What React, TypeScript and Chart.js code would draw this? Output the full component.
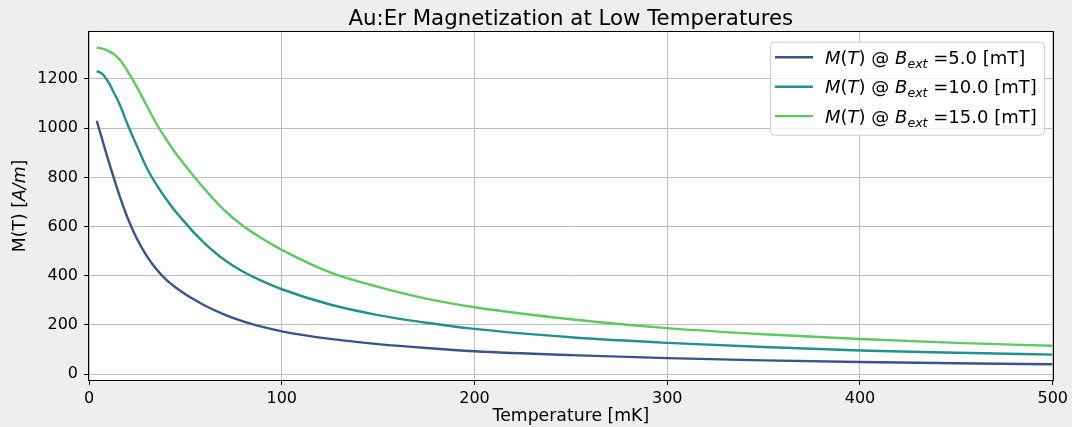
import React, { useEffect, useRef } from "react";
import { Chart, registerables } from "chart.js";

Chart.register(...registerables);

// Temperature samples [mK]
const temperatures = [4, 7, 10, 13, 16, 20, 25, 30, 35, 40, 45, 50, 55, 60, 70, 80, 90, 100, 125, 150, 175, 200, 250, 300, 350, 400, 450, 500];

// Magnetization [A/m] for each applied field
const mag5mT = [1030, 950, 870, 795, 722, 636, 548, 480, 426, 384, 352, 325, 301, 279, 243, 214, 192, 174, 143, 122, 106, 93, 77, 65, 56, 49, 44, 40];
const mag10mT = [1232, 1220, 1188, 1143, 1095, 1015, 925, 838, 770, 712, 660, 615, 571, 532, 466, 416, 378, 345, 283, 240, 209, 184, 150, 127, 110, 96, 87, 79];
const mag15mT = [1328, 1323, 1314, 1300, 1278, 1232, 1165, 1091, 1018, 955, 898, 847, 798, 752, 668, 602, 550, 505, 414, 355, 307, 272, 223, 187, 162, 143, 127, 115];

const fieldLabels = ["5.0", "10.0", "15.0"];
const seriesColors = ["#3b528b", "#21918c", "#5ec962"];

const xTickValues = [0, 100, 200, 300, 400, 500];
const yTickValues = [0, 200, 400, 600, 800, 1000, 1200];

const titleText = "Au:Er Magnetization at Low Temperatures";
const xLabelText = "Temperature [mK]";

const FAMILY = "'DejaVu Sans', sans-serif";
const BG = "#eeeeee";

type Run = { t: string; italic?: boolean; sub?: boolean };

function drawRuns(ctx: CanvasRenderingContext2D, runs: Run[], x: number, y: number, size: number) {
  let cx = x;
  for (const r of runs) {
    const s = r.sub ? size * 0.7 : size;
    ctx.font = `${r.italic ? "italic " : ""}${s}px ${FAMILY}`;
    ctx.fillText(r.t, cx, r.sub ? y + size * 0.22 : y);
    cx += ctx.measureText(r.t).width;
  }
  return cx - x;
}

function measureRuns(ctx: CanvasRenderingContext2D, runs: Run[], size: number) {
  let w = 0;
  for (const r of runs) {
    const s = r.sub ? size * 0.7 : size;
    ctx.font = `${r.italic ? "italic " : ""}${s}px ${FAMILY}`;
    w += ctx.measureText(r.t).width;
  }
  return w;
}

const decorations = {
  id: "decorations",
  beforeDraw(chart: any) {
    const ctx = chart.ctx as CanvasRenderingContext2D;
    const { left, top, right, bottom } = chart.chartArea;
    ctx.save();
    ctx.fillStyle = BG;
    ctx.fillRect(0, 0, chart.width, chart.height);
    ctx.fillStyle = "#ffffff";
    ctx.fillRect(left, top, right - left, bottom - top);
    ctx.restore();
  },
  afterDatasetsDraw(chart: any) {
    const ctx = chart.ctx as CanvasRenderingContext2D;
    const { left, top, right, bottom } = chart.chartArea;
    const midX = (left + right) / 2;
    const midY = (top + bottom) / 2;
    ctx.save();

    // axes frame
    ctx.strokeStyle = "#000000";
    ctx.lineWidth = 1;
    ctx.strokeRect(Math.round(left) - 0.5, Math.round(top) - 0.5, Math.round(right - left) + 1, Math.round(bottom - top) + 1);

    // title
    ctx.fillStyle = "#000000";
    ctx.textAlign = "center";
    ctx.textBaseline = "alphabetic";
    ctx.font = `21.3px ${FAMILY}`;
    ctx.fillText(titleText, midX, 25);

    // x-axis label
    ctx.font = `17.3px ${FAMILY}`;
    ctx.fillText(xLabelText, midX, 421);

    // y-axis label
    const yRuns: Run[] = [{ t: "M(T) [" }, { t: "A/m", italic: true }, { t: "]" }];
    const yw = measureRuns(ctx, yRuns, 17.3);
    ctx.save();
    ctx.translate(25, midY);
    ctx.rotate(-Math.PI / 2);
    ctx.textAlign = "left";
    drawRuns(ctx, yRuns, -yw / 2, 0, 17.3);
    ctx.restore();

    // legend
    const lgRight = right - 8.7;
    const lgTop = top + 9.7;
    const lgW = 274;
    const lgH = 93;
    const lgLeft = lgRight - lgW;
    ctx.beginPath();
    (ctx as any).roundRect(lgLeft + 0.5, lgTop + 0.5, lgW, lgH, 4);
    ctx.fillStyle = "rgba(255,255,255,0.8)";
    ctx.fill();
    ctx.strokeStyle = "#cccccc";
    ctx.lineWidth = 1;
    ctx.stroke();

    ctx.textAlign = "left";
    ctx.textBaseline = "alphabetic";
    fieldLabels.forEach((f, i) => {
      const cy = lgTop + 15.6 + i * 29.4;
      ctx.strokeStyle = seriesColors[i];
      ctx.lineWidth = 2.4;
      ctx.beginPath();
      ctx.moveTo(lgLeft + 5, cy);
      ctx.lineTo(lgLeft + 43, cy);
      ctx.stroke();
      ctx.fillStyle = "#000000";
      const runs: Run[] = [
        { t: "M", italic: true },
        { t: "(" },
        { t: "T", italic: true },
        { t: ")" },
        { t: " @ " },
        { t: "B", italic: true },
        { t: "ext", italic: true, sub: true },
        { t: " =" + f + " [mT]" },
      ];
      drawRuns(ctx, runs, lgLeft + 55, cy + 6.6, 18);
    });

    ctx.restore();
  },
};

export default function App() {
  const canvasRef = useRef<HTMLCanvasElement | null>(null);

  useEffect(() => {
    document.body.style.margin = "0";
    const canvas = canvasRef.current;
    if (!canvas) return;

    const series = [mag5mT, mag10mT, mag15mT];
    const chart = new Chart(canvas, {
      type: "line",
      data: {
        datasets: series.map((vals, i) => ({
          label: `M(T) @ B_ext =${fieldLabels[i]} [mT]`,
          data: temperatures.map((t, k) => ({ x: t, y: vals[k] })),
          borderColor: seriesColors[i],
          backgroundColor: seriesColors[i],
          borderWidth: 2.4,
          pointRadius: 0,
          cubicInterpolationMode: "monotone" as const,
          fill: false,
        })),
      },
      options: {
        animation: false,
        responsive: false,
        maintainAspectRatio: false,
        layout: { padding: { left: 0, right: 19, top: 32, bottom: 0 } },
        plugins: {
          legend: { display: false },
          title: { display: false },
          tooltip: { enabled: false },
        },
        scales: {
          x: {
            type: "linear",
            min: 0,
            max: 500,
            afterBuildTicks: (scale: any) => {
              scale.ticks = xTickValues.map((v) => ({ value: v }));
            },
            afterFit: (scale: any) => {
              scale.height = 47;
            },
            border: { display: false },
            grid: { color: "#bdbdbd", lineWidth: 1, tickColor: "#000000", tickLength: 5, drawTicks: true },
            ticks: {
              color: "#000000",
              font: { family: FAMILY, size: 16 },
              padding: 4,
              maxRotation: 0,
              callback: (v: any) => String(v),
            },
          },
          y: {
            type: "linear",
            min: -24,
            max: 1391,
            afterBuildTicks: (scale: any) => {
              scale.ticks = yTickValues.map((v) => ({ value: v }));
            },
            afterFit: (scale: any) => {
              scale.width = 89;
            },
            border: { display: false },
            grid: { color: "#bdbdbd", lineWidth: 1, tickColor: "#000000", tickLength: 5, drawTicks: true },
            ticks: {
              color: "#000000",
              font: { family: FAMILY, size: 16 },
              padding: 6,
              callback: (v: any) => String(v),
            },
          },
        },
      },
      plugins: [decorations],
    });

    return () => chart.destroy();
  }, []);

  return (
    <div style={{ width: 1072, height: 427, background: BG }}>
      <canvas ref={canvasRef} width={1072} height={427} style={{ display: "block", width: 1072, height: 427 }} />
    </div>
  );
}
